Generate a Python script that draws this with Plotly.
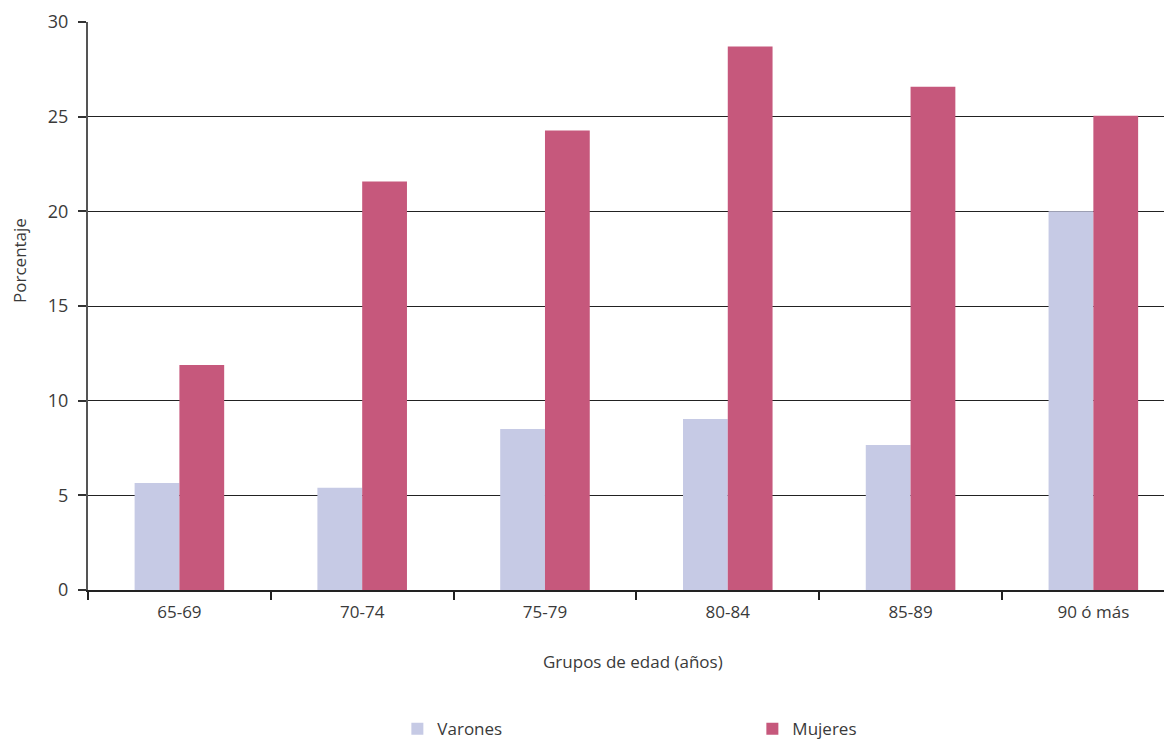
import plotly.graph_objects as go

categorias = ["65-69", "70-74", "75-79", "80-84", "85-89", "90 ó más"]
varones = [5.65, 5.4, 8.5, 9.03, 7.66, 20.0]
mujeres = [11.88, 21.57, 24.27, 28.7, 26.58, 25.05]
y_ticks = [0, 5, 10, 15, 20, 25, 30]

font_family = "Open Sans, Lato, sans-serif"
text_color = "#3a3a3a"

fig = go.Figure()
fig.add_trace(go.Bar(name="Varones", x=categorias, y=varones, marker_color="#C6CAE5",
                     marker_line_width=0))
fig.add_trace(go.Bar(name="Mujeres", x=categorias, y=mujeres, marker_color="#C6587C",
                     marker_line_width=0))

fig.update_layout(
    width=1172, height=741,
    margin=dict(l=80, r=0, t=14, b=159, autoexpand=False),
    paper_bgcolor="white", plot_bgcolor="white",
    barmode="group", bargap=0.51, bargroupgap=0,
    font=dict(family=font_family, size=17, color=text_color),
    showlegend=True,
    legend=dict(orientation="h", x=0.2833, xanchor="left", y=-0.245, yanchor="middle",
                entrywidth=310, entrywidthmode="pixels", font=dict(size=17, color=text_color),
                itemsizing="constant"),
)
fig.update_xaxes(
    type="category", range=[-0.5, 5.474],
    showline=True, linecolor="#222222", linewidth=2,
    ticks="outside", tickson="boundaries", ticklen=8, tickcolor="#222222", tickwidth=1.5,
    ticklabelstandoff=6,
    showgrid=False, tickfont=dict(size=17, color=text_color),
)
fig.update_yaxes(
    range=[0, 30], tickvals=y_ticks, ticktext=[str(v) for v in y_ticks],
    showline=True, linecolor="#555555", linewidth=2,
    ticks="outside", ticklen=8, tickcolor="#333333", tickwidth=1.5,
    ticklabelstandoff=6,
    showgrid=True, gridcolor="#222222", gridwidth=1,
    zeroline=False, tickfont=dict(size=18, color=text_color),
)
fig.add_annotation(text="Porcentaje", textangle=-90, xref="paper", yref="paper",
                   x=-0.0623, xanchor="center", y=0.581, yanchor="middle", showarrow=False,
                   font=dict(size=17, color=text_color))
fig.add_annotation(text="Grupos de edad (años)", xref="paper", yref="paper",
                   x=0.499, xanchor="center", y=-0.125, yanchor="middle", showarrow=False,
                   font=dict(size=17, color=text_color))

fig.write_html("out.html")
